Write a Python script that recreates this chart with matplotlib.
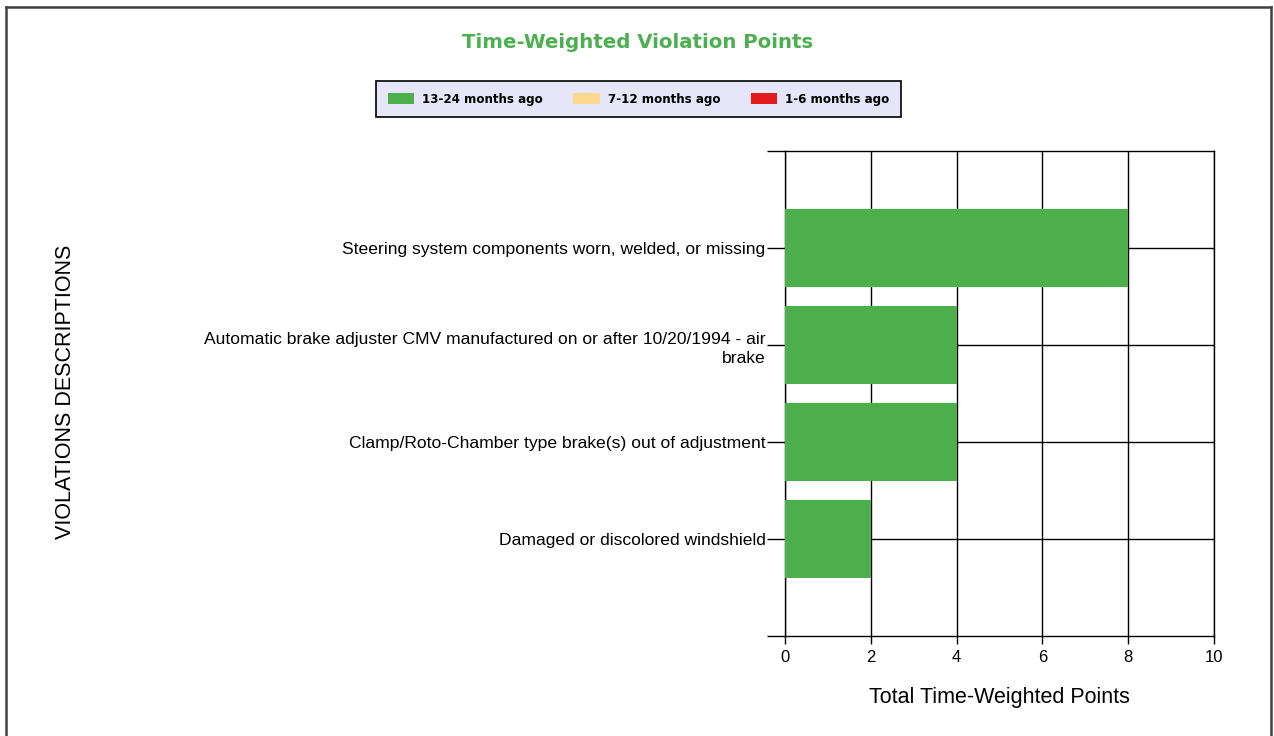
import matplotlib
matplotlib.use("Agg")
import matplotlib.pyplot as plt
from matplotlib.patches import Patch
from matplotlib.lines import Line2D
import numpy as np

categories = [
    "Steering system components worn, welded, or missing",
    "Automatic brake adjuster CMV manufactured on or after 10/20/1994 - air\nbrake",
    "Clamp/Roto-Chamber type brake(s) out of adjustment",
    "Damaged or discolored windshield",
]
series_names = ["13-24 months ago", "7-12 months ago", "1-6 months ago"]
vals_13_24 = [8, 4, 4, 2]
vals_7_12 = [0, 0, 0, 0]
vals_1_6 = [0, 0, 0, 0]
colors = ["#4CAF4C", "#FDD98F", "#E41A1C"]
xticks = [0, 2, 4, 6, 8, 10]

fig = plt.figure(figsize=(12.74, 7.36), dpi=100)
ax = fig.add_axes([785 / 1274, 100 / 736, 429 / 1274, 485 / 736])

pos = np.arange(1, len(categories) + 1)
left = np.zeros(len(categories))
for vals, c in zip([vals_13_24, vals_7_12, vals_1_6], colors):
    v = np.array(vals, dtype=float)
    ax.barh(pos, v, left=left, height=0.8, color=c, linewidth=0, zorder=3)
    left += v

ax.set_xlim(0, 10)
ax.set_ylim(5, 0)
ax.set_xticks(xticks)
ax.set_xticklabels([str(t) for t in xticks], fontsize=12, family="Liberation Sans")
ax.set_yticks(list(pos) + [0, 5])
ax.set_yticklabels(categories + ["", ""], fontsize=12.6, family="Liberation Sans",
                   linespacing=1.35)
for lab in ax.get_yticklabels():
    lab.set_horizontalalignment("right")
ax.tick_params(axis="y", length=13, width=1, color="black", pad=1)
ax.tick_params(axis="x", length=6, width=1, color="black", pad=4)

for x in xticks:
    ax.axvline(x, color="black", linewidth=1, zorder=2)
for y in pos:
    ax.axhline(y, color="black", linewidth=1, zorder=1)
for s in ax.spines.values():
    s.set_linewidth(1)
    s.set_color("black")

ax.set_xlabel("Total Time-Weighted Points", fontsize=15.5, family="Liberation Sans", labelpad=16)
fig.text(66 / 1274, 1 - 392 / 736, "VIOLATIONS DESCRIPTIONS", rotation=90,
         fontsize=15.5, family="Liberation Sans", ha="center", va="center")

fig.text(638 / 1274, 1 - 43 / 736, "Time-Weighted Violation Points", fontsize=14.2,
         fontweight="bold", color="#4CAF50", ha="center", va="center", family="DejaVu Sans")

handles = [Patch(facecolor=c, edgecolor="none") for c in colors]
leg = fig.legend(handles, series_names, loc="center", bbox_to_anchor=(638.5 / 1274, 1 - 99 / 736),
                 ncol=3, frameon=True, fancybox=False, edgecolor="black", facecolor="#E6E6F8",
                 prop={"family": "DejaVu Sans", "weight": "bold", "size": 8.6},
                 handlelength=2.2, handleheight=1.0, columnspacing=2.6, handletextpad=0.65,
                 borderpad=1.0)
leg.get_frame().set_linewidth(1.2)
leg.get_frame().set_alpha(1)

# outer border
bc = "#404040"
fig.add_artist(Line2D([6 / 1274, 6 / 1274], [0, 1 - 7 / 736], transform=fig.transFigure, color=bc, linewidth=1.8))
fig.add_artist(Line2D([6 / 1274, 1271 / 1274], [1 - 7 / 736, 1 - 7 / 736], transform=fig.transFigure, color=bc, linewidth=1.8))
fig.add_artist(Line2D([1271 / 1274, 1271 / 1274], [0, 1 - 7 / 736], transform=fig.transFigure, color=bc, linewidth=1.8))

fig.savefig("out.png", dpi=100)
